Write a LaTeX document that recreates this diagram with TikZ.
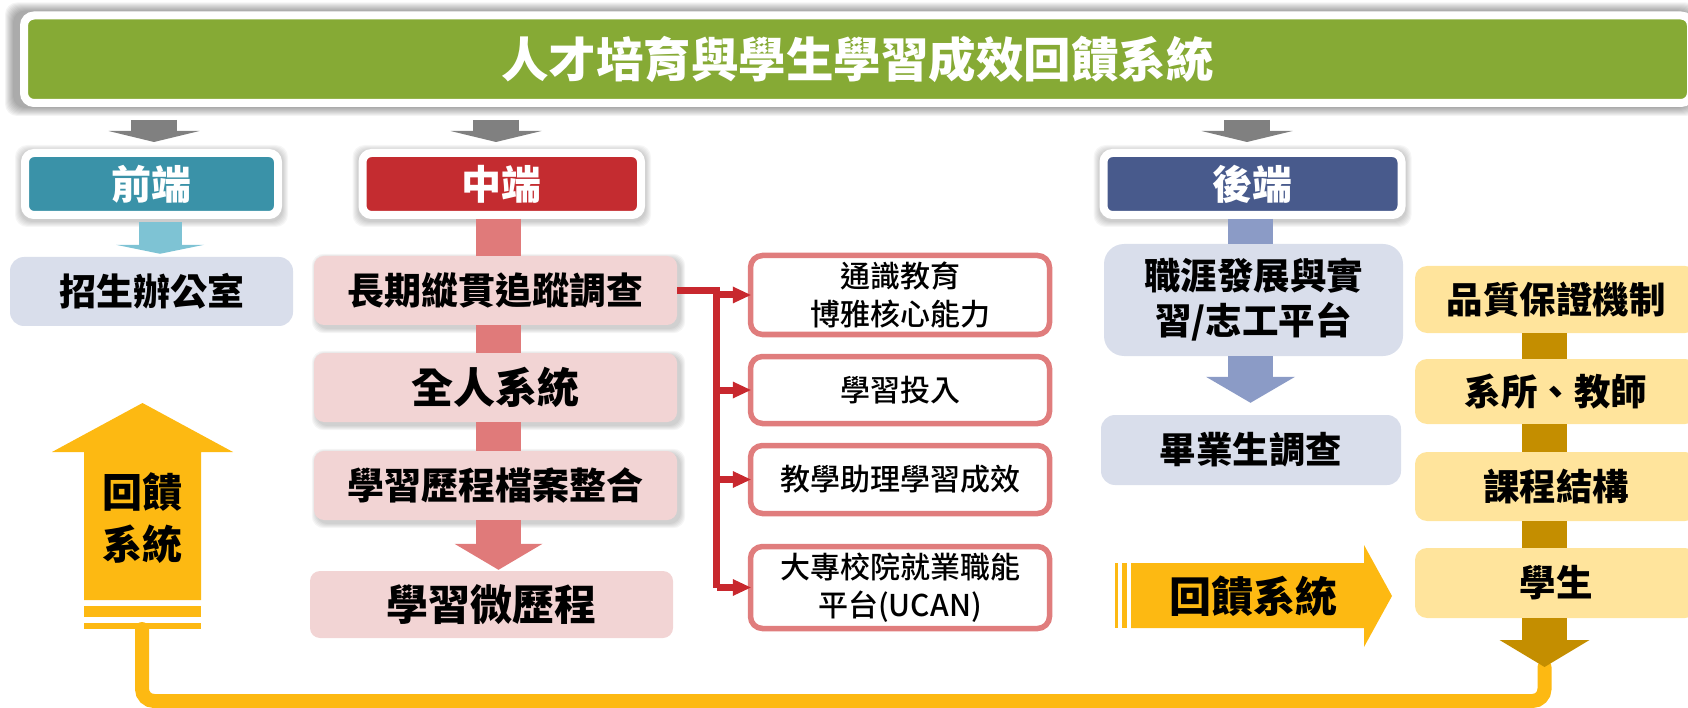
\documentclass[tikz,border=0pt]{standalone}
\usepackage{fontspec}
\setmainfont{Noto Sans CJK TC}
\newfontfamily\cjkmed{Noto Sans CJK TC Medium}
\usetikzlibrary{arrows.meta,calc,backgrounds}
\definecolor{titlegreen}{RGB}{134,170,53}
\definecolor{hdteal}{RGB}{58,146,168}
\definecolor{hdred}{RGB}{196,44,48}
\definecolor{hdnavy}{RGB}{72,90,140}
\definecolor{arrowgray}{RGB}{128,128,128}
\definecolor{lightblue}{RGB}{126,195,212}
\definecolor{lavender}{RGB}{217,222,235}
\definecolor{pinkfill}{RGB}{242,212,212}
\definecolor{pinkshaft}{RGB}{224,122,122}
\definecolor{blueshaftc}{RGB}{139,155,198}
\definecolor{lightyellow}{RGB}{255,228,156}
\definecolor{darkgold}{RGB}{196,142,0}
\definecolor{fbyellow}{RGB}{253,185,18}
\definecolor{connred}{RGB}{200,40,46}
\definecolor{rborder}{RGB}{224,125,125}
\newcommand\softshadow[5]{%
  \begin{scope}[on background layer]
  \foreach \k in {1,...,#4}{
    \fill[black, opacity=#5, rounded corners=12pt]
      ($(#1.north west)+(#2-\k,#3-\k)$) rectangle ($(#1.south east)+(#2+\k,#3+\k)$);
  }
  \end{scope}}
\begin{document}
\begin{tikzpicture}[x=1pt,y=-1pt,
  titlebox/.style={fill=titlegreen, draw=white, line width=8pt, rounded corners=10pt, text=white, font=\bfseries\fontsize{47.5}{56}\selectfont, inner sep=0pt},
  hdr/.style={draw=white, line width=8pt, rounded corners=9pt, text=white, font=\bfseries\fontsize{40}{48}\selectfont, minimum height=62pt, inner sep=0pt},
  lav/.style={fill=lavender, rounded corners=14pt, text=black, font=\bfseries\fontsize{37}{45}\selectfont, inner sep=0pt, align=center},
  pinkbox/.style={fill=pinkfill, rounded corners=10pt, minimum width=363pt, minimum height=69pt, text=black, font=\bfseries\fontsize{37}{45}\selectfont, inner sep=0pt},
  bigtext/.style={font=\bfseries\fontsize{42}{50}\selectfont},
  rbox/.style={fill=white, draw=rborder, line width=5.5pt, rounded corners=12pt, minimum width=299pt, text=black, font=\cjkmed\fontsize{30}{37.5}\selectfont, align=center, inner sep=0pt},
  ybox/.style={fill=lightyellow, rounded corners=12pt, minimum width=282pt, text=black, font=\bfseries\fontsize{36.5}{44}\selectfont, inner sep=0pt},
  garrow/.style={draw=arrowgray, line width=46pt, -{Triangle[length=11pt,width=91pt,line width=0pt]}},
  redshaft/.style={draw=pinkshaft, line width=45pt},
  blueshaft/.style={draw=blueshaftc, line width=45pt},
  goldshaft/.style={draw=darkgold, line width=45pt},
  redconn/.style={draw=connred, line width=7pt},
  redtip/.style={-{Triangle[length=18pt,width=17pt,line width=0pt]}},
  fbline/.style={draw=fbyellow, line width=14pt, line cap=round, rounded corners=12pt},
  fbtext/.style={text=black, font=\bfseries\fontsize{40}{52}\selectfont, align=center, inner sep=0pt}
]
\useasboundingbox (0,0) rectangle (1688,708);

% title
\node[titlebox, minimum width=1667pt, minimum height=87.5pt] (title) at (857.5,59.25) {人才培育與學生學習成效回饋系統};

% headers
\node[hdr, fill=hdteal, minimum width=253pt] (qd) at (151.5,184) {前端};
\node[hdr, fill=hdred, minimum width=278.5pt] (zd) at (501.75,184) {中端};
\node[hdr, fill=hdnavy, minimum width=298pt] (hd) at (1252.5,184) {後端};

% front
\node[lav, minimum width=283pt, minimum height=69pt] (zs) at (151.5,291.5) {招生辦公室};

% middle
\node[pinkbox] (lq) at (495.5,290.5) {長期縱貫追蹤調查};
\node[pinkbox, bigtext] (qr) at (495.5,387.5) {全人系統};
\node[pinkbox] (xl) at (495.5,485.5) {學習歷程檔案整合};
\node[pinkbox, bigtext, minimum height=67pt] (wl) at (491.5,604.5) {學習微歷程};

% outlined boxes
\node[rbox, minimum height=79pt] (r1) at (900,295) {通識教育\\博雅核心能力};
\node[rbox, minimum height=67pt] (r2) at (900,390) {學習投入};
\node[rbox, minimum height=68pt] (r3) at (900,479.5) {教學助理學習成效};
\node[rbox, minimum height=82pt] (r4) at (900,587.5) {大專校院就業職能\\平台(UCAN)};

% back
\node[lav, minimum width=299pt, minimum height=112pt, rounded corners=20pt, font=\bfseries\fontsize{36.5}{45}\selectfont] (zy) at (1253.5,300) {職涯發展與實\\習/志工平台};
\node[lav, minimum width=300pt, minimum height=70pt, font=\bfseries\fontsize{36.5}{45}\selectfont] (by) at (1251,450) {畢業生調查};

% quality column
\node[ybox, minimum height=67pt] (y1) at (1556,299.5) {品質保證機制};
\node[ybox, minimum height=65pt] (y2) at (1556,391.5) {系所、教師};
\node[ybox, minimum height=69pt] (y3) at (1556,486.5) {課程結構};
\node[ybox, minimum height=70pt] (y4) at (1556,583) {學生};

% shadows
\softshadow{title}{-6}{0}{9}{0.045}
\softshadow{qd}{0}{2}{6}{0.035}
\softshadow{zd}{0}{2}{6}{0.035}
\softshadow{hd}{0}{2}{6}{0.035}
\softshadow{lq}{3}{3}{5}{0.04}
\softshadow{qr}{3}{3}{5}{0.04}
\softshadow{xl}{3}{3}{5}{0.04}

% gray arrows from title
\coordinate (gx1) at (154,0);
\coordinate (gx2) at (496,0);
\coordinate (gx3) at (1247,0);
\draw[garrow, shorten <=13pt, shorten >=7pt] (gx1 |- title.south) -- (gx1 |- qd.north);
\draw[garrow, shorten <=13pt, shorten >=7pt] (gx2 |- title.south) -- (gx2 |- zd.north);
\draw[garrow, shorten <=13pt, shorten >=7pt] (gx3 |- title.south) -- (gx3 |- hd.north);

% front arrow
\coordinate (bx) at (160,0);
\draw[draw=lightblue, line width=43pt, -{Triangle[length=9pt,width=88pt,line width=0pt]}, shorten <=3pt, shorten >=3pt] (bx |- qd.south) -- (bx |- zs.north);

% middle shaft
\coordinate (rx) at (498.5,0);
\draw[redshaft] (rx |- zd.south) -- (rx |- lq.north);
\draw[redshaft] (rx |- lq.south) -- (rx |- qr.north);
\draw[redshaft] (rx |- qr.south) -- (rx |- xl.north);
\draw[redshaft, -{Triangle[length=26pt,width=88pt,line width=0pt]}, shorten >=1pt] (rx |- xl.south) -- (rx |- wl.north);

% red connectors
\coordinate (jn) at (716.5,0);
\draw[redconn] (lq.east) -- (jn |- lq.east) -- (jn |- r4.west);
\foreach \r in {r1,r2,r3,r4}{
  \draw[redconn, redtip, shorten >=-3pt] (jn |- \r.west) -- (\r.west);
}

% back arrows
\coordinate (blx) at (1250.5,0);
\draw[blueshaft] (blx |- hd.south) -- (blx |- zy.north);
\draw[blueshaft, -{Triangle[length=26pt,width=89pt,line width=0pt]}, shorten >=12pt] (blx |- zy.south) -- (blx |- by.north);

% feedback loop line
\coordinate (gdx) at (1544.5,0);
\coordinate (gtip) at (1544.5,667);
\coordinate (lowy) at (0,701);
\coordinate (fbbot) at (142,629);
\draw[fbline] (gtip) -- (gtip |- lowy) -- (fbbot |- lowy) -- (fbbot);

% quality shafts
\draw[goldshaft] (gdx |- y1.south) -- (gdx |- y2.north);
\draw[goldshaft] (gdx |- y2.south) -- (gdx |- y3.north);
\draw[goldshaft] (gdx |- y3.south) -- (gdx |- y4.north);
\draw[goldshaft, -{Triangle[length=27pt,width=90pt,line width=0pt]}] (gdx |- y4.south) -- (gtip);

% left feedback arrow
\fill[fbyellow] (84,600) -- (84,452) -- (52,452) -- (142.5,403) -- (233,452) -- (201,452) -- (201,600) -- cycle;
\fill[fbyellow] (84,606) rectangle (201,617);
\fill[fbyellow] (84,623) rectangle (201,629);
\node[fbtext] (fbl) at (142.5,518) {回饋\\系統};

% right feedback arrow
\fill[fbyellow] (1131,563) -- (1364,563) -- (1364,545) -- (1392,596) -- (1364,647) -- (1364,628) -- (1131,628) -- cycle;
\fill[fbyellow] (1115,563) rectangle (1118,628);
\fill[fbyellow] (1122,563) rectangle (1127,628);
\node[fbtext, font=\bfseries\fontsize{42}{50}\selectfont] (fbr) at (1253,596) {回饋系統};
\end{tikzpicture}
\end{document}
